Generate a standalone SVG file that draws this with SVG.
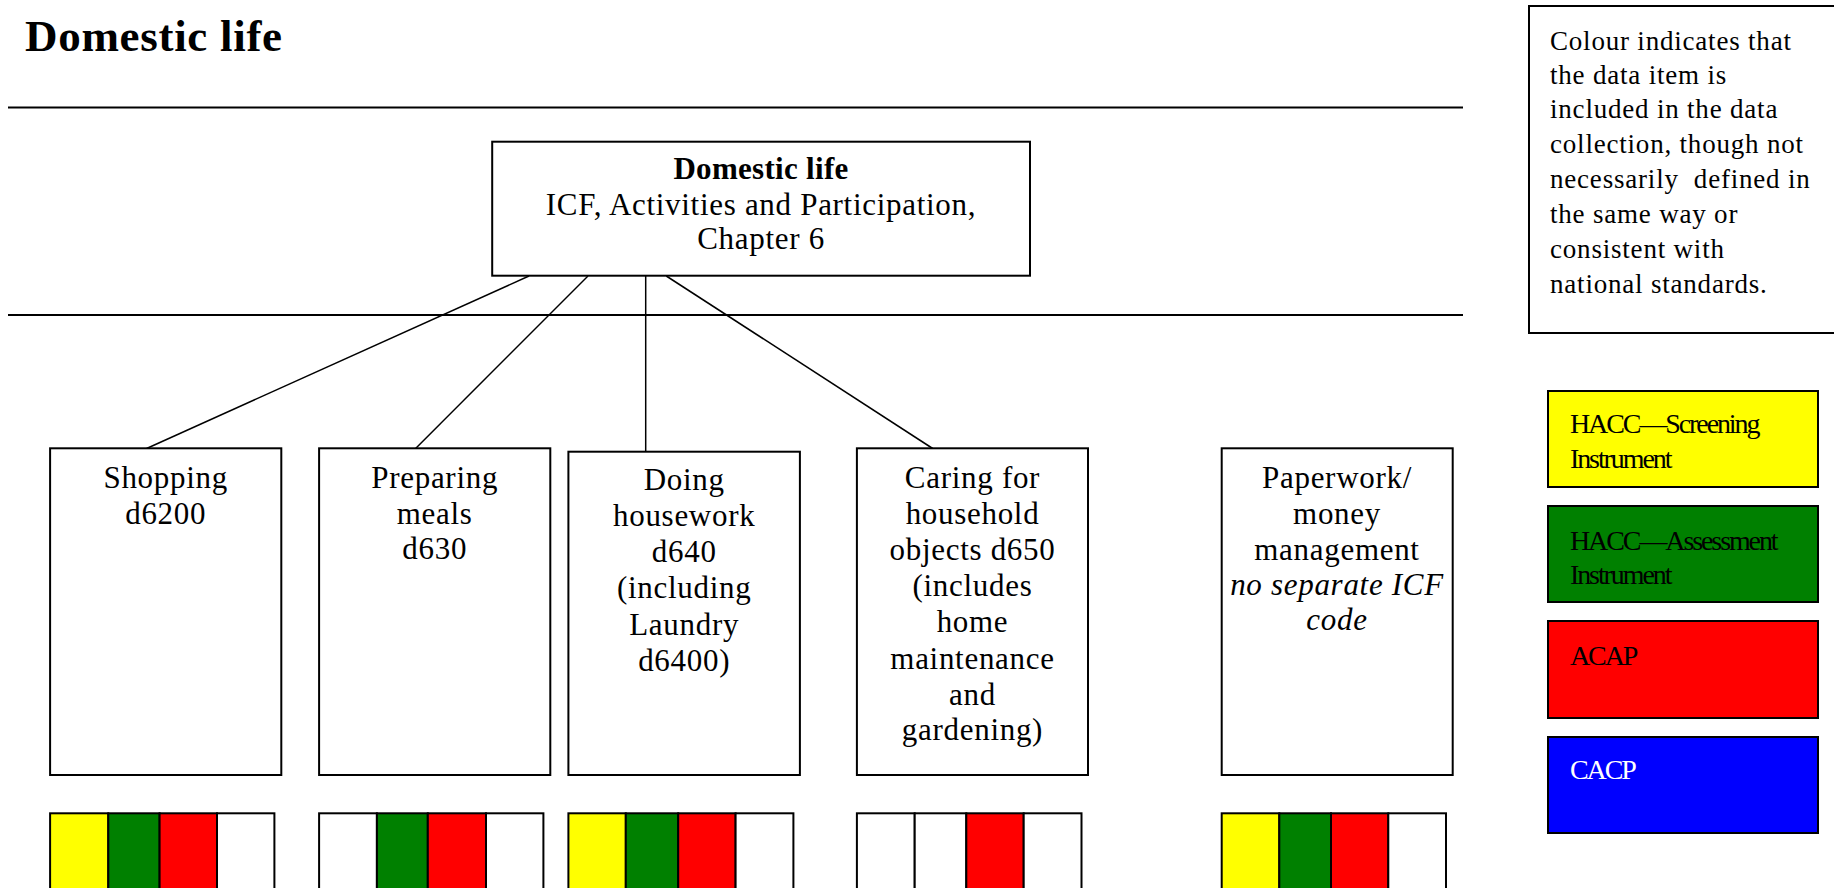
<svg xmlns="http://www.w3.org/2000/svg" width="1834" height="888" viewBox="0 0 1834 888">
<style>
  text { font-family: "Liberation Serif", "Times New Roman", serif; fill: #000; }
  .node { fill: #fff; stroke: #000; stroke-width: 2; }
  .lbl { font-size: 31px; letter-spacing: 0.7px; text-anchor: middle; }
  .conn { stroke: #000; stroke-width: 1.5; fill: none; }
  .rule { stroke: #000; stroke-width: 2; }
  .cell { stroke: #000; stroke-width: 2; }
  .leg { font-size: 28px; letter-spacing: -2.1px; }
  .note { font-size: 27px; letter-spacing: 0.8px; }
</style>
<rect width="1834" height="888" fill="#fff"/>

<text x="25" y="51" font-size="45" font-weight="bold" letter-spacing="0.7">Domestic life</text>

<line class="rule" x1="8" y1="107.5" x2="1463" y2="107.5"/>
<line class="rule" x1="8" y1="315" x2="1463" y2="315"/>

<g id="connectors">
  <line class="conn" x1="529" y1="276" x2="146.6" y2="448.5"/>
  <line class="conn" x1="588" y1="276" x2="415.6" y2="448.5"/>
  <line class="conn" x1="645.7" y1="276" x2="645.7" y2="451.7"/>
  <line class="conn" x1="666.3" y1="276" x2="932.7" y2="448.5"/>
</g>

<g id="root">
  <rect class="node" x="492.2" y="141.7" width="537.8" height="134"/>
  <text x="761" y="179.3" font-size="31" font-weight="bold" text-anchor="middle" letter-spacing="0.3">Domestic life</text>
  <text x="761" y="215" class="lbl" letter-spacing="0.6">ICF, Activities and Participation,</text>
  <text x="761" y="249.3" class="lbl" letter-spacing="0.6">Chapter 6</text>
</g>

<g id="shopping">
  <rect class="node" x="50.1" y="448.3" width="231.2" height="326.7"/>
  <text class="lbl" x="165.7" y="488">Shopping</text>
  <text class="lbl" x="165.7" y="523.5">d6200</text>
</g>

<g id="preparing">
  <rect class="node" x="319.1" y="448.3" width="231.2" height="326.7"/>
  <text class="lbl" x="434.7" y="488">Preparing</text>
  <text class="lbl" x="434.7" y="523.5">meals</text>
  <text class="lbl" x="434.7" y="559">d630</text>
</g>

<g id="housework">
  <rect class="node" x="568.4" y="451.7" width="231.5" height="323.3"/>
  <text class="lbl" x="684.2" y="490">Doing</text>
  <text class="lbl" x="684.2" y="526.3">housework</text>
  <text class="lbl" x="684.2" y="562.3">d640</text>
  <text class="lbl" x="684.2" y="598.3">(including</text>
  <text class="lbl" x="684.2" y="634.5">Laundry</text>
  <text class="lbl" x="684.2" y="670.7">d6400)</text>
</g>

<g id="caring">
  <rect class="node" x="856.9" y="448.3" width="231.1" height="326.7"/>
  <text class="lbl" x="972.5" y="488.3">Caring for</text>
  <text class="lbl" x="972.5" y="524.3">household</text>
  <text class="lbl" x="972.5" y="560">objects d650</text>
  <text class="lbl" x="972.5" y="595.7">(includes</text>
  <text class="lbl" x="972.5" y="632.3">home</text>
  <text class="lbl" x="972.5" y="669">maintenance</text>
  <text class="lbl" x="972.5" y="705">and</text>
  <text class="lbl" x="972.5" y="740">gardening)</text>
</g>

<g id="paperwork">
  <rect class="node" x="1221.7" y="448.3" width="231" height="326.7"/>
  <text class="lbl" x="1337" y="488.3">Paperwork/</text>
  <text class="lbl" x="1337" y="524.3">money</text>
  <text class="lbl" x="1337" y="560">management</text>
  <text class="lbl" x="1337" y="595" font-style="italic" font-size="30" letter-spacing="-0.6">no separate ICF</text>
  <text class="lbl" x="1337" y="630" font-style="italic" font-size="30" letter-spacing="-0.3">code</text>
</g>

<g id="bar-shopping">
  <rect class="cell" x="50.1" y="813.3" width="58.2" height="90" fill="#ffff00"/>
  <rect class="cell" x="108.3" y="813.3" width="51.3" height="90" fill="#008000"/>
  <rect class="cell" x="159.6" y="813.3" width="57.4" height="90" fill="#ff0000"/>
  <rect class="cell" x="217" y="813.3" width="57.4" height="90" fill="#ffffff"/>
</g>
<g id="bar-preparing">
  <rect class="cell" x="319.1" y="813.3" width="57.8" height="90" fill="#ffffff"/>
  <rect class="cell" x="376.9" y="813.3" width="50.9" height="90" fill="#008000"/>
  <rect class="cell" x="427.8" y="813.3" width="58.2" height="90" fill="#ff0000"/>
  <rect class="cell" x="486" y="813.3" width="57.4" height="90" fill="#ffffff"/>
</g>
<g id="bar-housework">
  <rect class="cell" x="568.4" y="813.3" width="57.4" height="90" fill="#ffff00"/>
  <rect class="cell" x="625.8" y="813.3" width="52.4" height="90" fill="#008000"/>
  <rect class="cell" x="678.2" y="813.3" width="57.4" height="90" fill="#ff0000"/>
  <rect class="cell" x="735.6" y="813.3" width="57.8" height="90" fill="#ffffff"/>
</g>
<g id="bar-caring">
  <rect class="cell" x="856.9" y="813.3" width="57.8" height="90" fill="#ffffff"/>
  <rect class="cell" x="914.7" y="813.3" width="51.6" height="90" fill="#ffffff"/>
  <rect class="cell" x="966.3" y="813.3" width="57.4" height="90" fill="#ff0000"/>
  <rect class="cell" x="1023.7" y="813.3" width="57.8" height="90" fill="#ffffff"/>
</g>
<g id="bar-paperwork">
  <rect class="cell" x="1221.7" y="813.3" width="57.6" height="90" fill="#ffff00"/>
  <rect class="cell" x="1279.3" y="813.3" width="51.7" height="90" fill="#008000"/>
  <rect class="cell" x="1331" y="813.3" width="57.3" height="90" fill="#ff0000"/>
  <rect class="cell" x="1388.3" y="813.3" width="57.7" height="90" fill="#ffffff"/>
</g>

<g id="legend-note">
  <rect x="1529" y="6" width="320" height="327" fill="#fff" stroke="#000" stroke-width="2"/>
  <text class="note" x="1550" y="50">Colour indicates that</text>
  <text class="note" x="1550" y="84">the data item is</text>
  <text class="note" x="1550" y="118">included in the data</text>
  <text class="note" x="1550" y="153">collection, though not</text>
  <text class="note" x="1550" y="188" xml:space="preserve">necessarily  defined in</text>
  <text class="note" x="1550" y="223">the same way or</text>
  <text class="note" x="1550" y="258">consistent with</text>
  <text class="note" x="1550" y="293">national standards.</text>
</g>

<g id="legend-screening">
  <rect x="1548" y="391" width="270" height="96" fill="#ffff00" stroke="#000" stroke-width="2"/>
  <text class="leg" x="1570" y="433">HACC—Screening</text>
  <text class="leg" x="1570" y="468">Instrument</text>
</g>
<g id="legend-assessment">
  <rect x="1548" y="506" width="270" height="96" fill="#008000" stroke="#000" stroke-width="2"/>
  <text class="leg" x="1570" y="550">HACC—Assessment</text>
  <text class="leg" x="1570" y="584">Instrument</text>
</g>
<g id="legend-acap">
  <rect x="1548" y="621" width="270" height="97" fill="#ff0000" stroke="#000" stroke-width="2"/>
  <text class="leg" x="1570" y="665">ACAP</text>
</g>
<g id="legend-cacp">
  <rect x="1548" y="737" width="270" height="96" fill="#0000ff" stroke="#000" stroke-width="2"/>
  <text class="leg" x="1570" y="779" style="fill:#fff">CACP</text>
</g>
</svg>
